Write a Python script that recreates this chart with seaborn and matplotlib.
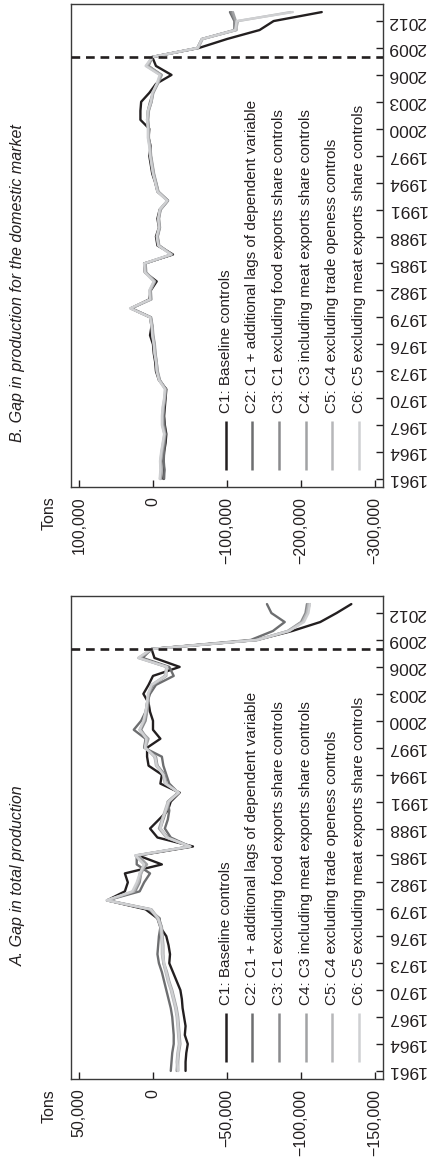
import numpy as np
import pandas as pd
import matplotlib
matplotlib.use("Agg")
import matplotlib.pyplot as plt
from matplotlib.ticker import FixedLocator, FixedFormatter
import seaborn as sns

sns.set_theme(style="white")
plt.rcParams['font.family'] = ['Liberation Sans', 'DejaVu Sans']

years = list(range(1961, 2014))
series_names = [
    "C1: Baseline controls",
    "C2: C1 + additional lags of dependent variable",
    "C3: C1 excluding food exports share controls",
    "C4: C3 including meat exports share controls",
    "C5: C4 excluding trade openess controls",
    "C6: C5 excluding meat exports share controls",
]
colors = ['#231f20', '#6d6e70', '#8a8b8d', '#a1a2a4', '#b6b7b9', '#cfd0d2']

# Panel A: Gap in total production (tons)
A_C1 = [-22000,-22000,-22500,-23500,-21500,-22000,-21000,-20000,-19500,-18500,
        -16000,-13500,-11000,-11500,-10500,-9000,-5000,-3000,5000,31000,
        19000,17000,19000,-6000,10000,-27000,-3000,2000,-4000,-10000,
        -12000,-18000,-5000,-6000,3000,4000,4000,-5000,0,0,
        2000,3000,6500,3000,0,-18000,-1000,1000,-70000,-94000,
        -113000,-124000,-134000]
A_C2 = [-12000,-12500,-13000,-14000,-14000,-13500,-13000,-12000,-10500,-9000,
        -7500,-6000,-4000,-3000,-3500,-4000,-5000,-4500,3000,31000,
        9000,6000,2000,11000,11000,-25000,-12000,-8000,-10000,-11000,
        -10000,-17000,-11000,-9000,-7000,-6000,6000,5000,13000,8000,
        5000,4000,2000,-2000,-14000,-11000,7000,1000,-66000,-81000,
        -89000,-80000,-77000]
A_C3 = [-16000,-16500,-17000,-18000,-17500,-17000,-16500,-15500,-14000,-12500,
        -10500,-9000,-7000,-6500,-6500,-6000,-6000,-4000,2000,31000,
        12000,9000,8000,5000,11000,-25000,-10000,-5000,-7000,-9000,
        -11000,-17000,-9000,-8000,-3000,-2000,5000,4000,8000,5000,
        4000,3000,3000,0,-8000,-10000,9000,1000,-70000,-91000,
        -100000,-103000,-104000]
A_C4 = [-17000,-17000,-17500,-18500,-18000,-17500,-17000,-16000,-14500,-13000,
        -11000,-9500,-7500,-7000,-7000,-6500,-6000,-3500,1000,30500,
        13000,10000,9000,4000,10000,-25500,-9000,-4000,-6000,-9000,
        -11000,-17500,-8000,-7000,-3000,-1000,5000,3000,9000,6000,
        4000,4000,3000,0,-9000,-9000,9000,0,-71000,-92000,
        -101000,-104000,-106000]
A_C5 = [-16500,-16000,-16500,-17500,-17000,-16500,-16000,-15000,-13500,-12000,
        -10000,-8500,-7000,-6000,-6000,-5500,-5000,-3000,2000,31000,
        13000,10000,8000,6000,12000,-24500,-9000,-5000,-6000,-8000,
        -10000,-17000,-9000,-7000,-2000,-1000,5000,4000,9000,6000,
        5000,4000,3000,1000,-8000,-9000,10000,1000,-70000,-91000,
        -101000,-104000,-105000]
A_C6 = [-17000,-16500,-17000,-18000,-17500,-17000,-16500,-15500,-14000,-12500,
        -10500,-9000,-7500,-6500,-6500,-6000,-5500,-3500,1500,31500,
        14000,11000,9000,6000,12000,-25000,-9500,-5000,-6500,-8500,
        -10500,-17500,-8500,-7000,-2500,-1500,5500,4500,9000,6500,
        5000,4000,3500,1000,-8500,-9500,10000,1000,-70000,-92000,
        -102000,-105000,-106000]

# Panel B: Gap in production for the domestic market (tons)
B_C1 = [-14000,-15000,-14000,-15000,-17000,-18000,-16000,-15000,-16000,-17000,
        -18000,-8000,-4000,-3000,-1000,0,4000,2000,4000,30000,
        5000,3000,-5000,11000,12000,-27000,-6000,-4000,-8000,-6000,
        -9000,-20000,-6000,-3000,1000,3000,5000,3000,6000,5000,
        17000,17000,16000,5000,-4000,-25000,-4000,1000,-62000,-100000,
        -144000,-163000,-228000]
B_C2 = [-15000,-15500,-14500,-15000,-16000,-17000,-15500,-14500,-15000,-16500,
        -17500,-9000,-5000,-4000,-2000,-1000,1000,1000,3000,29000,
        4000,4000,-3000,10000,11000,-26000,-8000,-6000,-9000,-7000,
        -10000,-20000,-7000,-4000,0,2000,3000,4000,6000,6000,
        8000,7000,4000,0,-6000,-11000,6000,1000,-60000,-66000,
        -110000,-110000,-104000]
B_C3 = [-10000,-11000,-10500,-12000,-14000,-16000,-13000,-13000,-14000,-16000,
        -17000,-9000,-6000,-5000,-3000,-2000,0,1000,3000,30000,
        3000,4000,-2000,10000,11000,-25000,-8000,-6000,-9000,-8000,
        -10000,-20000,-7000,-4000,-1000,1000,3000,4000,6000,6000,
        7000,6000,2000,0,-6000,-11000,8000,1000,-60000,-66000,
        -112000,-111000,-106000]
B_C4 = [-10500,-11500,-11000,-12500,-14500,-16500,-13500,-13000,-14500,-16000,
        -17000,-9500,-6500,-5000,-3500,-2500,-500,500,2500,29500,
        2000,3000,-2500,9000,10000,-25500,-8500,-6500,-9500,-8000,
        -10500,-20500,-7500,-4500,-1500,500,2500,3500,5500,5500,
        6500,5500,2000,-500,-6500,-12000,7000,500,-61000,-67000,
        -113000,-112000,-108000]
B_C5 = [-9500,-10500,-10000,-11500,-13500,-15500,-12500,-12500,-13500,-15500,
        -16500,-8500,-5500,-4500,-2500,-1500,500,1500,3500,30500,
        3500,4500,-1500,10500,11500,-24500,-7500,-5500,-8500,-7500,
        -9500,-19500,-6500,-3500,-500,1500,3500,4500,6500,6500,
        7500,6500,2500,500,-5500,-10000,9000,1000,-61000,-67000,
        -112000,-115000,-186000]
B_C6 = [-9000,-10000,-9500,-11000,-13000,-15000,-12000,-12000,-13000,-15000,
        -16000,-8000,-5000,-4000,-2000,-1000,1000,2000,4000,31000,
        4000,5000,-1000,11000,12000,-24000,-7000,-5000,-8000,-7000,
        -9000,-19000,-6000,-3000,0,2000,4000,5000,7000,7000,
        8000,7000,3000,1000,-5000,-9000,10000,1000,-60000,-66000,
        -111000,-113000,-189000]

year_ticks = list(range(1961, 2013, 3))
A_ticks = [50000, 0, -50000, -100000, -150000]
A_ticklabels = ["50,000", "0", "\u221250,000", "\u2212100,000", "\u2212150,000"]
B_ticks = [100000, 0, -100000, -200000, -300000]
B_ticklabels = ["100,000", "0", "\u2212100,000", "\u2212200,000", "\u2212300,000"]
break_year = 2008

titleA = "A. Gap in total production"
titleB = "B. Gap in production for the domestic market"


def long_df(cols):
    frames = []
    for name, vals in zip(series_names, cols):
        frames.append(pd.DataFrame({"year": years, "gap": vals, "series": name}))
    return pd.concat(frames, ignore_index=True)


W, H = 431, 1163
fig = plt.figure(figsize=(W / 100, H / 100), dpi=100)

TXT = '#231f20'


def draw_panel(rect_px, df, xlim, ticks, ticklabels, title, title_y, tons_y):
    left, top, right, bottom = rect_px
    ax = fig.add_axes([left / W, 1 - bottom / H, (right - left) / W, (bottom - top) / H])
    sns.lineplot(data=df, x="gap", y="year", hue="series", palette=colors,
                 hue_order=series_names, estimator=None, sort=False, orient="y",
                 linewidth=1.7, legend=False, ax=ax)
    ax.axhline(break_year, color='#231f20', lw=1.9, linestyle=(0, (3.3, 2.2)), zorder=5)
    ax.set_xlim(*xlim)
    ax.set_ylim(1960.1, 2013.9)
    ax.set_xlabel("")
    ax.set_ylabel("")
    ax.xaxis.set_major_locator(FixedLocator(ticks))
    ax.xaxis.set_major_formatter(FixedFormatter(ticklabels))
    ax.yaxis.tick_right()
    ax.yaxis.set_major_locator(FixedLocator(year_ticks))
    ax.tick_params(axis='x', direction='in', length=5, width=1.0, color='#231f20',
                   pad=7, labelsize=11.5, labelcolor=TXT, bottom=True, top=False)
    ax.tick_params(axis='y', direction='in', length=5, width=1.0, color='#231f20',
                   pad=3, labelsize=12.5, labelcolor=TXT, right=True, left=False)
    for lab in ax.get_xticklabels():
        lab.set_rotation(90)
        lab.set_ha('center')
        lab.set_va('top')
    for lab in ax.get_yticklabels():
        lab.set_rotation(180)
        lab.set_ha('left')
        lab.set_va('center')
    for sp in ax.spines.values():
        sp.set_color('#3a3a3a')
        sp.set_linewidth(1.0)
    # manual rotated legend
    for i, (name, c) in enumerate(zip(series_names, colors)):
        xf = 0.496 + i * 0.0853
        ax.plot([xf, xf], [0.035, 0.137], transform=ax.transAxes, color=c, lw=1.8,
                solid_capstyle='butt')
        ax.text(xf, 0.153, name, transform=ax.transAxes, rotation=90, ha='center',
                va='bottom', fontsize=11, color=TXT)
    fig.text(18 / W, 1 - title_y / H, title, rotation=90, ha='center', va='center',
             fontsize=11.5, style='italic', color=TXT)
    fig.text(49 / W, 1 - tons_y / H, "Tons", rotation=90, ha='center', va='center',
             fontsize=11.5, color=TXT)
    return ax


dfA = long_df([A_C1, A_C2, A_C3, A_C4, A_C5, A_C6])
dfB = long_df([B_C1, B_C2, B_C3, B_C4, B_C5, B_C6])

draw_panel((71, 4, 383, 487), dfB, (110800, -310800), B_ticks, B_ticklabels, titleB, 283, 513)
draw_panel((71, 596, 383, 1079), dfA, (55400, -155400), A_ticks, A_ticklabels, titleA, 876, 1106)

fig.savefig("out.png", dpi=100, facecolor='white')
